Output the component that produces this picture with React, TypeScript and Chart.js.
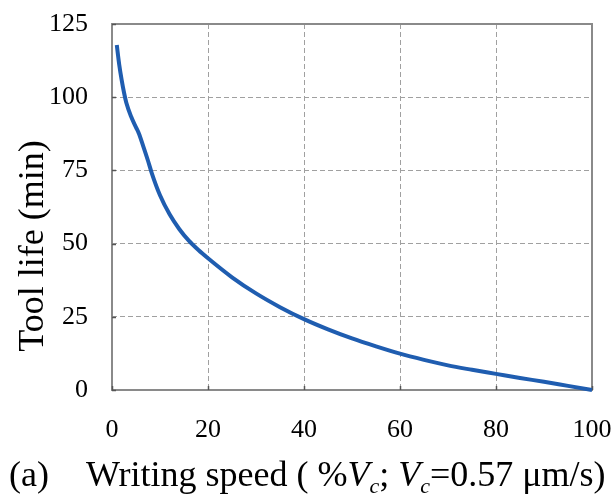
import React, { useEffect, useRef } from "react";
import { Chart, registerables } from "chart.js";

Chart.register(...registerables);

const speedPct = [1, 1.5, 2, 2.5, 3, 4, 5, 5.6, 6.5, 7.5, 8.3, 10, 12, 14, 16, 18, 20, 25, 30, 35, 40, 45, 50, 55, 60, 65, 70, 75, 80, 85, 90, 95, 100];
const toolLife = [117.8, 111.2, 106, 101.6, 98, 93.3, 89.7, 87.6, 83.3, 78.3, 74, 66.5, 60, 55, 51, 47.8, 45, 38.5, 33, 28.3, 24.2, 20.7, 17.6, 14.9, 12.4, 10.3, 8.4, 6.9, 5.5, 4.1, 2.8, 1.4, 0];
const xTicks = [0, 20, 40, 60, 80, 100];
const yTicks = [0, 25, 50, 75, 100, 125];

const FONT = '"Liberation Serif", "Times New Roman", serif';

const framePlugin = {
  id: "frame",
  beforeDatasetsDraw(chart: any) {
    const { ctx, chartArea } = chart;
    const xs = chart.scales.x;
    const ys = chart.scales.y;
    ctx.save();
    ctx.strokeStyle = "#8a8a8a";
    ctx.lineWidth = 2;
    ctx.setLineDash([]);
    ctx.strokeRect(chartArea.left, chartArea.top, chartArea.right - chartArea.left, chartArea.bottom - chartArea.top);
    ctx.strokeStyle = "#555555";
    ctx.lineWidth = 1.5;
    xTicks.forEach((v) => {
      const px = Math.round(xs.getPixelForValue(v)) + 0.5;
      ctx.beginPath();
      ctx.moveTo(px, chartArea.bottom);
      ctx.lineTo(px, chartArea.bottom - 4);
      ctx.stroke();
    });
    yTicks.forEach((v) => {
      const py = Math.round(ys.getPixelForValue(v)) + 0.5;
      ctx.beginPath();
      ctx.moveTo(chartArea.left, py);
      ctx.lineTo(chartArea.left + 4, py);
      ctx.stroke();
    });
    ctx.restore();
  },
  afterDraw(chart: any) {
    const { ctx } = chart;
    ctx.save();
    ctx.fillStyle = "#000";
    ctx.textBaseline = "alphabetic";
    ctx.save();
    ctx.translate(43, 246);
    ctx.rotate(-Math.PI / 2);
    ctx.textAlign = "center";
    ctx.font = `36px ${FONT}`;
    ctx.fillText("Tool life (min)", 0, 0);
    ctx.restore();
    ctx.textAlign = "left";
    const size = 36;
    ctx.font = `${size}px ${FONT}`;
    ctx.fillText("(a)", 9, 486);
    const segs: { t: string; s: string }[] = [
      { t: "Writing speed ( %", s: "n" },
      { t: "V", s: "i" },
      { t: "c", s: "sub" },
      { t: "; ", s: "n" },
      { t: "V", s: "i" },
      { t: "c", s: "sub" },
      { t: "=0.57 \u03bcm/s)", s: "n" },
    ];
    let x = 86;
    const base = 486;
    segs.forEach((seg) => {
      let dy = 0;
      if (seg.s === "n") ctx.font = `${size}px ${FONT}`;
      else if (seg.s === "i") ctx.font = `italic ${size}px ${FONT}`;
      else {
        ctx.font = `italic ${Math.round(size * 0.62)}px ${FONT}`;
        dy = size * 0.2;
      }
      ctx.fillText(seg.t, x, base + dy);
      x += ctx.measureText(seg.t).width;
    });
    ctx.restore();
  },
};

export default function App() {
  const ref = useRef<HTMLCanvasElement | null>(null);
  useEffect(() => {
    document.body.style.margin = "0";
    const canvas = ref.current;
    if (!canvas) return;
    const chart = new Chart(canvas, {
      type: "line",
      data: {
        datasets: [
          {
            data: speedPct.map((v, i) => ({ x: v, y: toolLife[i] })),
            borderColor: "#1f5db0",
            borderWidth: 4,
            pointRadius: 0,
            cubicInterpolationMode: "monotone",
            fill: false,
            clip: 4,
          },
        ],
      },
      options: {
        animation: false,
        responsive: false,
        layout: { padding: { top: 24, right: 21, left: 0, bottom: 0 } },
        plugins: { legend: { display: false }, tooltip: { enabled: false } },
        scales: {
          x: {
            type: "linear",
            min: 0,
            max: 100,
            afterFit: (s: any) => {
              s.height = 108;
              s.paddingLeft = 0;
              s.paddingRight = 0;
            },
            afterBuildTicks: (s: any) => {
              s.ticks = xTicks.map((v) => ({ value: v }));
            },
            grid: { color: "#a0a0a0", lineWidth: 1, drawTicks: false },
            border: { display: false, dash: [5, 3] },
            ticks: { font: { family: FONT, size: 26 }, color: "#000", padding: 25, maxRotation: 0 },
          },
          y: {
            min: 0,
            max: 125,
            afterFit: (s: any) => {
              s.width = 112;
              s.paddingTop = 0;
              s.paddingBottom = 0;
            },
            afterBuildTicks: (s: any) => {
              s.ticks = yTicks.map((v) => ({ value: v }));
            },
            grid: { color: "#a0a0a0", lineWidth: 1, drawTicks: false },
            border: { display: false, dash: [5, 3] },
            ticks: { font: { family: FONT, size: 26 }, color: "#000", padding: 24 },
          },
        },
      },
      plugins: [framePlugin],
    } as any);
    return () => chart.destroy();
  }, []);
  return (
    <div style={{ width: 613, height: 498, background: "#fff" }}>
      <canvas ref={ref} width={613} height={498} style={{ display: "block" }} />
    </div>
  );
}
